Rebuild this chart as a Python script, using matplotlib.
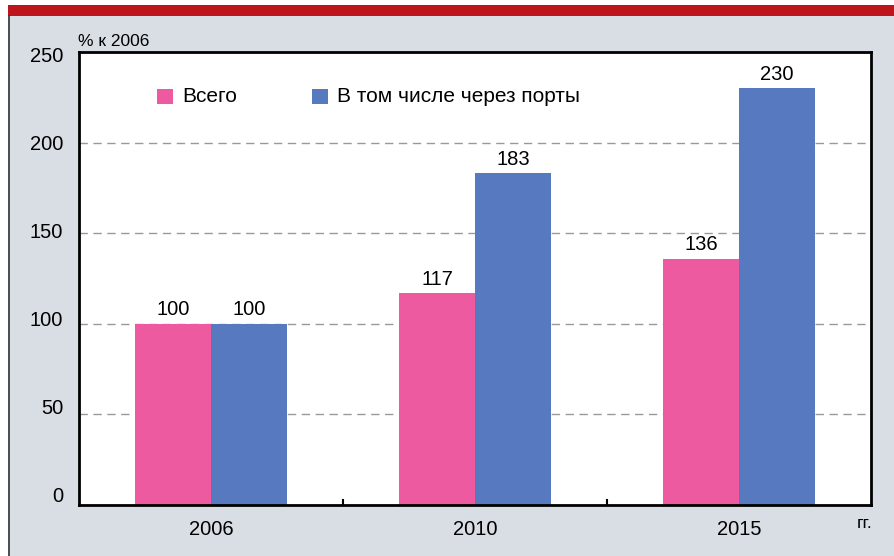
import numpy as np
import matplotlib
matplotlib.use("Agg")
import matplotlib.pyplot as plt
import matplotlib.transforms as mtransforms
from matplotlib.patches import Rectangle

plt.rcParams['font.family'] = ['Liberation Sans', 'DejaVu Sans']

years = ['2006', '2010', '2015']
total = [100, 117, 136]
ports = [100, 183, 230]
series_names = ['Всего', 'В том числе через порты']
yticks = [0, 50, 100, 150, 200, 250]

pink = '#ee5aa0'
blue = '#5679bf'
panel = '#d9dde4'
red = '#be141c'

W, H = 895, 556
fig = plt.figure(figsize=(W / 100, H / 100), dpi=100)
fig.patch.set_facecolor('white')

# gray panel, red stripe on top, dark line on the left
fig.patches.append(Rectangle((8 / W, 0), 1 - 8 / W, 1 - 16 / H, transform=fig.transFigure,
                             facecolor=panel, edgecolor='none', zorder=-2))
fig.patches.append(Rectangle((8 / W, 1 - 16 / H), 1 - 8 / W, 11 / H, transform=fig.transFigure,
                             facecolor=red, edgecolor='none', zorder=-2))
fig.lines.append(plt.Line2D([8.5 / W, 8.5 / W], [0, 1 - 16 / H], transform=fig.transFigure,
                            color='#333333', lw=1.2, zorder=-1))

ax = fig.add_axes([79 / W, 1 - 505 / H, (871 - 79) / W, (505 - 52) / H])
ax.set_zorder(1)
ax.set_facecolor('white')

ind = np.arange(len(years))
width = 0.288

b1 = ax.bar(ind - width / 2, total, width, color=pink, zorder=2)
b2 = ax.bar(ind + width / 2, ports, width, color=blue, zorder=2)

for bars, vals in ((b1, total), (b2, ports)):
    for r, v in zip(bars, vals):
        ax.text(r.get_x() + r.get_width() / 2, v + 4.6, str(v), ha='center', va='baseline',
                fontsize=14.5, color='black')

ax.set_xlim(-0.5, 2.5)
ax.set_ylim(0, 250)
ax.set_yticks(yticks, labels=[])
for y in yticks[1:-1]:
    ax.axhline(y, color='#999999', lw=1, ls=(0, (6, 4)), zorder=1)

# y labels sit a bit off their gridlines in the original
ytrans = mtransforms.blended_transform_factory(ax.transAxes, ax.transData)
for v in yticks:
    dy = -5 + 14 * (250 - v) / 250
    off = mtransforms.ScaledTranslation(-16 / 100, dy / 100, fig.dpi_scale_trans)
    ax.text(0, v, str(v), transform=ytrans + off, ha='right', va='center', fontsize=14.5)

ax.set_xticks(ind)
ax.set_xticklabels(years)
ax.tick_params(axis='x', length=0, pad=11, labelsize=14.5)
ax.tick_params(axis='y', length=0)
for x in [0.5, 1.5]:
    ax.plot([x, x], [0, 3], color='black', lw=1.5, zorder=3, clip_on=False)

for s in ax.spines.values():
    s.set_linewidth(2)
    s.set_color('black')

# legend drawn as squares and text
fig.patches.append(Rectangle((157 / W, 1 - 104 / H), 16 / W, 15 / H, transform=fig.transFigure,
                             facecolor=pink, edgecolor='none', zorder=5))
fig.patches.append(Rectangle((312 / W, 1 - 104 / H), 16 / W, 15 / H, transform=fig.transFigure,
                             facecolor=blue, edgecolor='none', zorder=5))
fig.text(182 / W, 1 - 96 / H, series_names[0], fontsize=15, va='center', ha='left', zorder=5)
fig.text(337 / W, 1 - 96 / H, series_names[1], fontsize=15, va='center', ha='left', zorder=5)

fig.text(78 / W, 1 - 41 / H, '% к 2006', fontsize=12.5, va='center', ha='left')
fig.text(873 / W, 1 - 524 / H, 'гг.', fontsize=12.5, va='center', ha='right')

fig.savefig('out.png', dpi=100)
